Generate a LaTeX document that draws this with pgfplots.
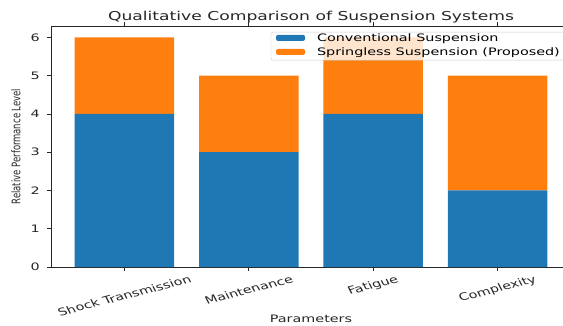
\documentclass[border=0pt]{standalone}
\usepackage{fontspec}
\setmainfont{DejaVu Sans}
\usepackage{graphicx}
\usepackage{pgfplots}
\pgfplotsset{compat=1.18}
\definecolor{cA}{RGB}{31,119,180}
\definecolor{cB}{RGB}{255,127,14}
\newcommand\sx[1]{\scalebox{1.4}[1]{#1}}
\newcommand\tfont{\fontsize{10.3}{12}\selectfont}
\newcommand\rx[1]{\sx{\rotatebox{20}{#1}}}
\begin{document}
\begin{tikzpicture}
\begin{axis}[name=ax,
  scale only axis, width=520bp, height=241bp,
  xmin=-0.59, xmax=3.59, ymin=0, ymax=6.3,
  ybar stacked, bar width=0.8,
  xtick={0,1,2,3},
  xticklabels={\rx{Shock Transmission},\rx{Maintenance},\rx{Fatigue},\rx{Complexity}},
  ytick={0,1,2,3,4,5,6},
  yticklabels={\sx{0},\sx{1},\sx{2},\sx{3},\sx{4},\sx{5},\sx{6}},
  tick align=outside, major tick length=3.5bp,
  tick style={black!85, line width=0.8bp},
  axis line style={black!85, line width=0.8bp},
  every tick label/.append style={font=\tfont, text=black!85},
  x tick label style={anchor=north, inner sep=0pt, yshift=-4bp},
  y tick label style={anchor=east, inner sep=0pt, xshift=-7.5bp},
  title={\sx{Qualitative Comparison of Suspension Systems}},
  every axis title/.style={font=\fontsize{12.3}{14}\selectfont, text=black!85, at={(rel axis cs:0.5,1)}, anchor=base, yshift=5.3bp, inner sep=0pt},
  xlabel={\sx{Parameters}},
  xlabel style={font=\tfont, text=black!85, at={(rel axis cs:0.5,0)}, anchor=base, yshift=-55bp, inner sep=0pt},
  ylabel={\sx{\rotatebox{90}{\fontsize{8.5}{10}\selectfont Relative Performance Level}}},
  every axis y label/.style={at={(rel axis cs:0,0.5)}, anchor=center, xshift=-35bp, inner sep=0pt, text=black!85},
  legend style={at={(1,1)}, anchor=north east, xshift=-6bp, yshift=-6bp,
    font=\tfont, draw=black!20, fill=white, fill opacity=0.8, text opacity=1, draw opacity=1,
    rounded corners=2bp, inner xsep=5bp, inner ysep=1.5bp, row sep=3bp,
    /tikz/every odd column/.append style={column sep=12bp},
    nodes={inner sep=0pt, anchor=base west, text height=8bp, text depth=3bp}},
  legend cell align=left,
  legend image code/.code={\fill[#1, draw=none, fill opacity=1] (0bp,0.8bp) rectangle (29bp,6.8bp);},
]
\addplot[fill=cA, draw=none] coordinates {(0,4) (1,3) (2,4) (3,2)};
\addlegendentry{\sx{Conventional Suspension}}
\addplot[fill=cB, draw=none] coordinates {(0,2) (1,2) (2,2) (3,3)};
\addlegendentry{\sx{Springless Suspension (Proposed)}}
\end{axis}
\pgfresetboundingbox
\path[use as bounding box] ([shift={(-51bp,-59bp)}]ax.south west) rectangle ++(563bp,326bp);
\end{tikzpicture}
\end{document}
